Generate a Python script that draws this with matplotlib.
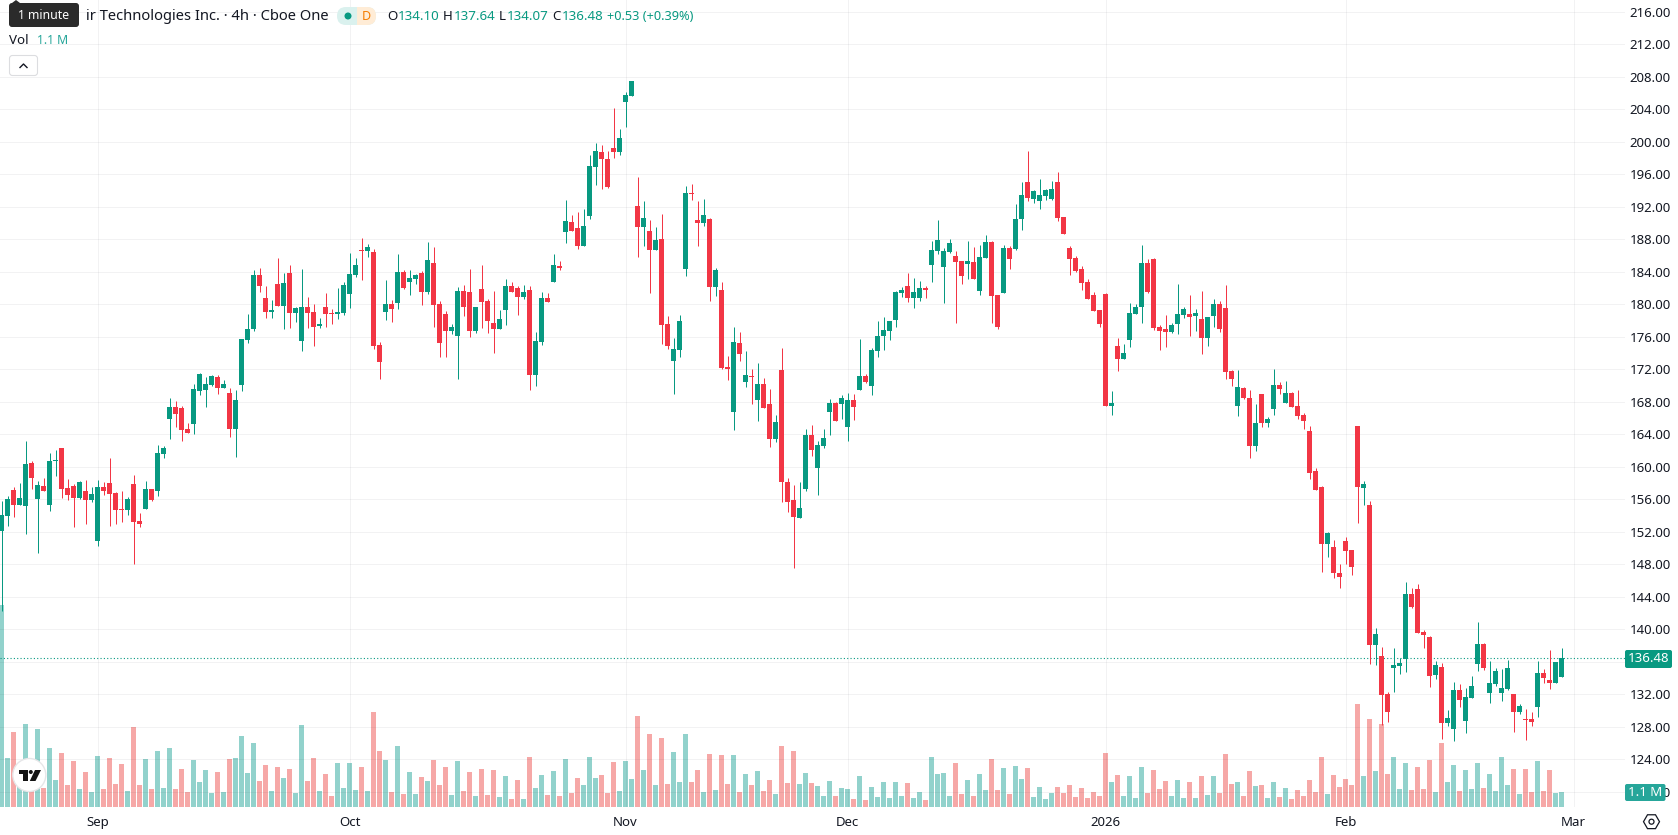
import matplotlib
matplotlib.use("Agg")
import matplotlib.pyplot as plt
from matplotlib.patches import Circle, FancyBboxPatch, Polygon, Rectangle, RegularPolygon

plt.rcParams['font.family'] = ['Noto Sans', 'DejaVu Sans']

# 4h bars, oldest first
opens = [
    152.10,153.95,157.15,155.30,155.18,160.47,156.04,157.64,155.30,160.72,
    162.32,157.39,157.64,156.16,157.02,155.91,150.87,157.51,158.01,156.78,
    154.81,154.68,157.88,153.33,154.81,157.27,157.02,161.58,165.89,167.36,
    167.24,164.65,165.27,169.33,169.45,170.07,171.05,169.70,169.09,164.65,
    170.07,175.61,176.96,183.61,180.78,179.06,182.50,179.79,183.86,178.93,
    175.49,179.67,179.06,177.33,179.67,178.93,178.81,178.93,181.27,183.61,
    186.69,186.56,186.44,174.99,179.06,180.04,180.16,183.98,182.75,183.12,
    183.85,181.51,185.08,180.04,178.80,176.71,176.10,181.64,181.51,176.71,
    181.88,180.41,177.70,176.96,179.30,182.25,182.01,180.90,181.76,171.30,
    175.36,180.77,182.74,184.71,188.90,190.13,189.39,187.18,190.87,196.90,
    198.75,197.88,199.24,198.75,204.90,205.64,192.10,189.51,189.02,186.68,
    188.04,177.57,173.02,174.37,184.34,193.70,190.38,190.01,190.50,182.13,
    181.76,172.28,166.74,175.24,170.43,171.17,168.22,170.19,167.73,163.42,
    171.91,158.13,155.91,153.69,157.26,163.91,159.85,162.56,166.74,167.85,
    167.72,164.89,168.22,169.45,171.17,169.94,174.25,176.09,176.71,178.06,
    181.39,182.25,180.77,180.77,182.00,184.83,186.56,184.59,186.43,185.94,
    185.33,184.96,185.20,181.63,185.69,187.66,181.14,181.39,186.93,186.80,
    190.49,195.05,192.96,192.71,193.33,192.96,195.05,190.74,186.93,185.69,
    184.34,182.74,181.14,179.29,181.26,167.48,174.86,173.26,175.60,178.80,
    179.66,185.08,185.57,177.20,176.96,176.59,177.57,178.68,178.80,178.56,
    178.19,175.85,178.56,180.03,179.54,171.79,167.48,
    169.70,168.47,162.56,168.96,165.39,167.12,170.07,167.86,169.09,167.49,
    166.38,164.41,159.49,157.52,150.50,150.13,146.93,150.87,149.76,165.03,
    157.39,155.30,138.07,136.71,132.04,135.24,135.48,136.35,144.35,144.96,
    139.67,139.05,134.38,135.36,128.47,127.73,132.53,128.71,131.54,135.73,
    138.19,132.16,133.27,132.16,132.65,132.04,129.82,128.96,128.96,130.44,
    134.62,133.76,133.39,134.10,
]
highs = [
    155.79,156.41,157.51,158.01,163.18,160.72,158.25,158.62,161.70,162.07,
    162.32,158.50,157.88,158.25,158.38,157.51,158.38,158.13,161.08,156.90,
    157.02,156.28,158.99,154.31,158.25,157.27,162.68,162.56,168.47,168.10,
    167.49,165.39,170.19,171.55,171.05,171.30,171.30,170.69,169.70,169.45,
    175.73,178.81,184.23,184.47,182.26,180.53,185.70,183.86,184.84,179.67,
    184.35,180.90,180.04,178.32,181.39,179.42,182.01,182.75,186.32,185.70,
    188.16,187.43,186.81,175.36,182.99,180.53,186.19,184.23,184.23,183.73,
    184.10,187.67,187.05,180.41,179.17,177.57,182.13,182.37,184.34,179.67,
    184.84,180.65,181.64,179.30,183.11,182.74,182.25,182.37,182.25,176.59,
    181.51,181.39,186.19,185.33,192.84,190.99,191.36,191.73,198.38,199.85,
    199.61,198.87,204.16,201.58,206.13,207.49,195.67,192.71,190.38,189.51,
    191.11,178.56,175.85,178.68,194.56,194.81,192.71,192.96,190.62,184.47,
    182.74,173.64,177.20,176.59,174.25,172.04,172.77,170.93,169.57,166.37,
    174.62,158.62,157.76,158.13,164.65,165.14,163.17,164.65,168.34,167.97,
    168.83,169.08,168.95,175.72,171.42,174.62,177.94,178.43,177.94,181.63,
    182.12,183.85,183.23,182.86,182.25,187.79,190.37,186.93,188.03,186.56,
    185.33,187.79,187.05,187.29,188.53,187.79,181.14,187.29,187.17,192.34,
    195.05,198.87,194.06,195.42,194.19,195.17,196.28,190.74,187.17,185.94,
    184.71,183.11,181.51,179.29,181.39,169.32,175.85,175.11,180.16,180.03,
    187.29,185.57,185.69,177.45,178.68,177.69,182.49,179.66,181.14,179.42,
    181.63,178.43,180.65,180.40,182.37,171.91,171.91,
    169.83,169.46,167.73,168.96,166.13,172.04,170.44,170.56,169.21,169.46,
    166.63,165.03,159.86,157.64,151.98,150.99,148.04,151.36,149.76,165.03,
    158.26,155.79,140.16,137.82,132.28,137.70,136.47,145.82,145.08,145.58,
    139.91,139.18,136.10,135.85,130.07,133.51,133.27,132.78,134.25,140.90,
    138.31,136.10,135.24,135.11,136.22,132.04,130.81,130.19,129.82,136.10,
    135.11,137.45,135.98,137.64,
]
lows = [
    142.25,152.71,153.82,155.30,151.73,157.27,149.39,157.02,154.56,158.87,
    156.16,155.91,152.59,156.04,152.96,155.67,150.25,156.53,152.71,152.96,
    153.21,154.07,148.04,152.59,154.81,155.79,156.41,161.08,163.42,164.90,
    163.18,164.16,164.04,168.84,167.36,169.95,168.96,169.70,163.67,161.21,
    169.33,175.24,176.72,181.52,178.32,178.32,179.79,176.96,177.09,177.82,
    174.26,177.09,174.87,177.09,177.21,177.58,178.19,178.69,179.55,183.36,
    182.99,185.83,174.50,170.81,178.07,177.82,179.42,181.89,181.15,182.50,
    179.91,181.27,177.20,173.51,173.51,176.34,170.80,178.56,175.97,176.47,
    177.08,176.47,174.00,176.96,177.45,181.51,178.68,180.65,169.45,169.94,
    174.99,180.28,182.74,184.22,187.54,189.02,186.81,187.18,190.50,194.68,
    194.19,194.31,198.01,198.38,201.82,205.64,185.82,187.18,181.39,186.68,
    175.11,174.50,168.96,173.51,183.48,192.84,187.18,189.64,180.41,181.02,
    172.04,170.68,164.53,173.02,169.82,167.73,165.63,167.23,162.43,163.05,
    155.66,154.43,147.54,153.69,157.02,161.33,156.53,162.31,163.91,165.63,
    165.88,163.17,165.75,169.45,170.31,168.83,173.51,174.37,175.60,177.20,
    180.89,180.28,179.54,180.40,180.77,182.74,186.19,180.16,186.31,177.69,
    182.49,183.11,183.11,181.14,185.69,177.69,176.96,181.39,184.34,186.68,
    189.14,192.71,192.46,191.73,192.83,192.83,190.25,188.65,183.60,183.97,
    181.76,180.65,179.17,177.20,167.48,166.37,171.79,173.26,174.74,178.80,
    177.69,181.39,176.83,174.37,174.74,176.46,176.34,178.31,176.09,176.71,
    173.88,174.86,177.20,176.59,170.80,169.94,166.25,
    168.35,161.09,161.95,164.90,164.90,166.38,168.96,167.86,167.36,165.89,
    164.66,158.50,157.15,147.05,148.90,146.32,145.08,148.04,146.68,153.09,
    155.30,135.73,135.61,128.22,128.59,132.28,134.50,134.74,142.62,139.55,
    137.70,132.90,133.88,126.50,128.10,126.25,130.44,127.24,131.54,134.87,
    134.99,130.93,133.02,131.17,132.53,127.36,129.58,126.37,128.10,129.21,
    133.39,132.65,133.39,134.07,
]
closes = [
    154.07,156.04,155.30,156.16,160.35,158.62,157.76,157.02,160.72,160.84,
    157.27,156.53,156.16,158.13,155.91,156.65,157.51,157.02,156.65,154.68,
    154.68,156.04,153.21,152.96,157.27,155.91,161.70,162.32,167.36,166.50,
    164.53,164.16,169.58,171.42,170.19,171.18,169.70,170.19,164.65,168.22,
    175.73,176.96,183.61,182.26,179.06,179.30,179.79,182.63,178.93,179.55,
    179.67,178.93,177.21,177.58,178.81,178.81,179.06,182.38,183.73,184.84,
    186.56,187.06,174.87,172.90,180.04,179.42,183.98,182.01,183.24,183.61,
    181.51,185.45,179.91,175.24,176.71,177.20,181.64,179.67,176.71,179.67,
    180.28,177.94,176.96,178.19,182.25,181.51,180.90,181.51,171.30,175.48,
    180.77,180.28,184.84,184.47,190.25,189.02,187.18,189.64,197.02,198.87,
    197.88,194.44,198.75,200.47,205.76,207.49,189.51,190.62,186.68,187.91,
    177.45,174.87,174.50,177.94,193.70,193.58,190.01,190.99,182.13,184.22,
    172.16,172.04,175.36,173.88,171.30,171.05,170.19,167.23,163.42,165.51,
    158.13,155.66,153.82,154.93,163.91,162.06,162.68,163.54,167.85,165.63,
    168.46,168.22,167.35,171.17,170.43,174.37,176.09,176.83,177.94,181.51,
    181.76,180.77,181.51,182.00,181.76,186.68,187.91,186.56,187.54,185.20,
    183.48,185.33,183.11,185.82,187.66,181.02,177.20,186.93,185.57,190.49,
    193.45,193.08,193.94,193.45,194.06,194.19,190.62,188.65,185.57,184.09,
    182.62,180.65,179.17,177.57,167.48,167.85,173.26,174.00,178.92,179.66,
    185.08,181.51,177.08,176.71,176.59,177.45,178.80,179.42,178.43,178.92,
    175.85,178.43,180.03,176.96,171.66,170.80,169.82,
    168.47,162.56,165.39,165.39,165.89,170.07,169.58,169.09,167.36,166.26,
    165.64,159.24,157.15,150.50,151.85,146.93,146.44,149.64,147.67,157.52,
    157.89,138.07,139.42,131.91,129.82,135.61,135.85,144.35,142.75,139.55,
    139.30,134.25,135.61,128.47,129.08,132.53,131.30,131.67,133.02,138.19,
    135.24,133.39,134.87,132.78,135.24,129.82,130.56,128.84,128.59,134.62,
    134.01,133.39,135.98,136.48,
]
# volume per bar, millions of shares
volumes = [
    14.81,3.59,5.50,1.98,6.08,2.20,5.72,1.39,4.32,1.98,
    3.96,1.61,3.37,1.32,2.57,1.10,3.74,1.32,3.59,1.69,
    3.15,1.17,5.86,1.61,3.52,1.32,4.10,1.39,4.32,1.32,
    2.79,1.10,3.45,1.83,2.71,1.03,2.57,1.10,3.52,3.59,
    5.20,2.49,4.69,1.91,3.08,1.17,2.93,2.13,2.79,1.03,
    6.01,1.91,3.59,1.17,2.42,0.81,3.23,1.39,3.23,1.25,
    2.93,1.17,6.96,4.10,3.45,1.10,4.47,0.95,2.57,0.95,
    2.20,1.91,3.45,1.61,2.93,0.88,3.37,1.17,2.57,0.81,
    2.79,0.88,2.71,0.73,2.27,0.59,1.98,0.59,3.67,1.39,
    2.35,0.88,2.64,0.81,3.52,1.03,2.13,1.61,3.67,2.13,
    2.35,1.03,3.30,1.17,3.37,2.05,6.67,2.71,5.35,1.61,
    5.06,1.69,4.03,1.83,5.35,1.83,2.71,1.10,3.88,1.25,
    3.81,1.69,3.81,1.10,2.42,1.61,2.64,1.17,1.98,0.95,
    4.47,1.76,4.10,1.69,2.49,1.76,1.54,0.81,1.91,0.81,
    1.39,1.32,0.59,2.27,0.51,1.47,0.73,1.83,0.66,1.83,
    0.81,1.76,0.66,1.10,0.51,3.67,2.42,2.49,0.81,3.23,
    0.95,1.98,0.81,2.42,1.25,3.52,1.25,2.86,0.95,3.01,
    2.05,2.86,0.73,1.47,0.59,1.03,1.47,1.03,1.61,0.73,
    1.39,0.66,1.10,0.81,3.96,1.83,2.35,0.81,2.27,0.66,
    2.93,1.03,2.71,1.32,1.91,0.81,1.98,0.66,1.83,0.66,
    2.27,0.88,2.27,1.03,3.88,1.69,1.83,0.81,2.64,1.54,
    1.61,0.66,1.83,0.73,1.39,0.59,1.25,0.81,1.98,1.10,
    3.67,0.95,2.35,1.47,2.05,1.61,7.55,2.27,6.45,2.64,
    6.08,2.42,3.67,1.32,3.23,1.25,2.93,1.32,3.45,1.10,
    4.69,1.83,3.08,1.17,2.71,1.32,3.23,1.39,2.42,1.17,
    3.67,1.61,2.79,0.95,2.79,1.10,3.37,1.17,2.71,1.03,
    1.10,
]
month_bars = [16, 58, 104, 141, 184, 224, 262]
month_labels = ['Sep', 'Oct', 'Nov', 'Dec', '2026', 'Feb', 'Mar']
price_ticks = list(range(120, 217, 4))

UP = '#089981'
DOWN = '#f23645'
TEXT = '#131722'
W, H = 1678, 835
PANE_W, PANE_H = 1625, 807

fig = plt.figure(figsize=(W / 100, H / 100), dpi=100, facecolor='white')
pane_rect = [0, (H - PANE_H) / H, PANE_W / W, PANE_H / H]

xs = list(range(len(closes)))
up = [c >= o for o, c in zip(opens, closes)]
xlim = (-0.25, 270.58)

# volume sits behind the candles on its own scale
vol_ax = fig.add_axes(pane_rect, zorder=1)
vol_ax.bar(xs, volumes, width=5 / 6, linewidth=0,
           color=['#26a69a' if u else '#ef5350' for u in up], alpha=0.5)
vol_ax.set_xlim(*xlim)
vol_ax.set_ylim(0, 59.18)
vol_ax.axis('off')

ax = fig.add_axes(pane_rect, zorder=2)
ax.patch.set_visible(False)
ax.set_xlim(*xlim)
ax.set_ylim(118.13, 217.45)
for s in ax.spines.values():
    s.set_visible(False)

colors = [UP if u else DOWN for u in up]
ax.vlines(xs, lows, highs, colors=colors, linewidth=0.72, zorder=3)
body_low = [min(o, c) for o, c in zip(opens, closes)]
body_h = [max(abs(c - o), 0.12) for o, c in zip(opens, closes)]
ax.bar(xs, body_h, bottom=body_low, width=5 / 6, color=colors, linewidth=0, zorder=4)
ax.axhline(closes[-1], color=UP, linewidth=0.8, linestyle=(0, (1, 2)), zorder=2)

ax.set_axisbelow(True)
ax.grid(True, color='#2a2e39', alpha=0.06, linewidth=0.72)
ax.yaxis.tick_right()
# the 136 label lies under the last price tag, so it stays blank
ax.set_yticks(price_ticks, ['' if p == 136 else f'{p:.2f}' for p in price_ticks])
ax.set_xticks(month_bars, month_labels)
ax.tick_params(axis='y', length=0, pad=3.2, labelsize=9.5, labelcolor=TEXT)
ax.tick_params(axis='x', length=0, pad=6.2, labelsize=9.5, labelcolor=TEXT)
ax.get_xticklabels()[4].set_fontweight('bold')

# header, badges and widgets are placed in pixels on a full-figure layer
ui = fig.add_axes([0, 0, 1, 1], zorder=5)
ui.set_xlim(0, W)
ui.set_ylim(H, 0)
ui.axis('off')

ui.text(329, 16.5, 'ir Technologies Inc. · 4h · Cboe One', ha='right', va='center',
        fontsize=10.6, color=TEXT)

tip = FancyBboxPatch((9, 3), 70, 24, boxstyle='round,pad=0,rounding_size=3',
                     fc='#2b2b2b', ec='none', zorder=6)
ui.add_patch(tip)
ui.add_patch(Polygon([(12, 3), (16, 0), (20, 3)], fc='#2b2b2b', ec='none', zorder=6))
ui.text(44, 15.5, '1 minute', ha='center', va='center', fontsize=8.8, color='white', zorder=7)

pill = FancyBboxPatch((337, 7), 39, 18, boxstyle='round,pad=0,rounding_size=9',
                      fc='#daf1ee', ec='none')
ui.add_patch(pill)
orange = Rectangle((357, 7), 19, 18, fc='#ffecd6', ec='none')
ui.add_patch(orange)
orange.set_clip_path(pill)
ui.add_patch(Circle((348, 16), 3.5, fc=UP, ec='none'))
ui.text(366, 16, 'D', ha='center', va='center', fontsize=9, color='#f57c00')

for x, s, c in [(387, 'O', TEXT), (397.5, '134.10', UP), (443, 'H', TEXT), (453.5, '137.64', UP),
                (499, 'L', TEXT), (507, '134.07', UP), (552, 'C', TEXT), (562, '136.48', UP)]:
    ui.text(x, 16.5, s, ha='left', va='center', fontsize=9.6, color=c)
ui.text(607, 16.5, '+0.53 (+0.39%)', ha='left', va='center', fontsize=9.2, color=UP)

ui.text(9, 40.5, 'Vol', ha='left', va='center', fontsize=9.6, color=TEXT)
ui.text(37, 40.5, '1.1 M', ha='left', va='center', fontsize=8.8, color='#26a69a')

ui.add_patch(FancyBboxPatch((9.5, 55.5), 28, 20, boxstyle='round,pad=0,rounding_size=3',
                            fc='white', ec='#dcdde0', lw=0.8))
ui.plot([20, 23.5, 27], [67.5, 64, 67.5], color=TEXT, lw=1.0)

# last price and last volume tags on the scale
ui.add_patch(FancyBboxPatch((1625, 650), 47, 18, boxstyle='round,pad=0,rounding_size=2',
                            fc=UP, ec='none'))
ui.text(1648.5, 659, f'{closes[-1]:.2f}', ha='center', va='center', fontsize=9.5, color='white')
ui.add_patch(FancyBboxPatch((1625, 784), 40.5, 17, boxstyle='round,pad=0,rounding_size=2',
                            fc='#26a69a', ec='none'))
ui.text(1645, 792.5, f'{volumes[-1]:.1f} M', ha='center', va='center', fontsize=9.5, color='white')

# settings hexagon
ui.add_patch(RegularPolygon((1651.5, 821.7), 6, radius=8, orientation=3.14159 / 2,
                            fc='none', ec=TEXT, lw=0.9))
ui.add_patch(Circle((1651.5, 821.7), 2.5, fc='none', ec=TEXT, lw=0.9))

# logo badge
ui.add_patch(Circle((29.3, 775), 16.5, fc='white', ec='#e6e6e8', lw=1.0))
ui.add_patch(Polygon([(18.5, 770), (28, 770), (28, 781), (23, 781), (23, 774), (18.5, 774)],
                     fc='#131313', ec='none'))
ui.add_patch(Circle((30.8, 772), 2, fc='#131313', ec='none'))
ui.add_patch(Polygon([(35, 770), (41, 770), (35.5, 781), (29.8, 781)], fc='#131313', ec='none'))

fig.savefig('out.png', dpi=100)
